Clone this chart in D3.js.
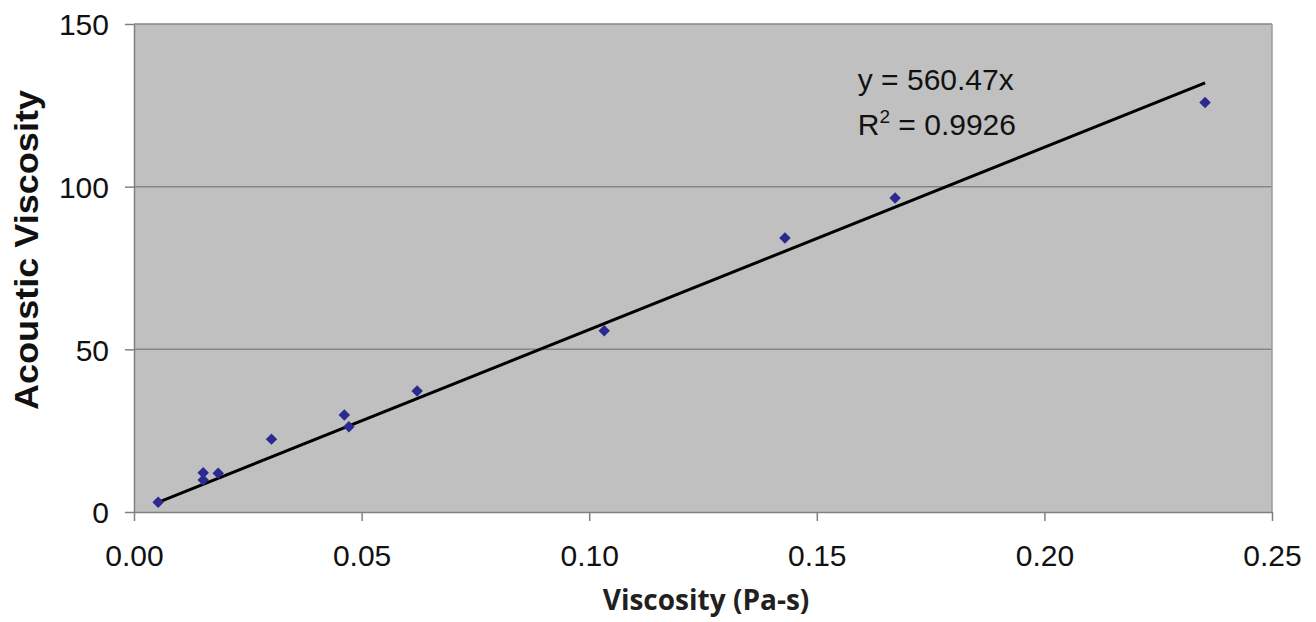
<!DOCTYPE html>
<html>
<head>
<meta charset="utf-8">
<script src="https://cdn.jsdelivr.net/npm/d3@7"></script>
<style>
  body { margin: 0; background: #fff; }
  svg { display: block; }
  .tick text { font-family: "Liberation Sans", Arial, sans-serif; fill: #111; }
</style>
</head>
<body>
<div id="chart"></div>
<script>
// measured points (viscosity Pa-s vs acoustic viscosity)
var viscosity = [0.0053, 0.0152, 0.0152, 0.0185, 0.0302, 0.0462, 0.0472, 0.0622, 0.1033, 0.1430, 0.1672, 0.2353];
var acoustic  = [3.0, 12.1, 9.8, 11.9, 22.4, 29.8, 26.2, 37.2, 55.7, 84.2, 96.5, 125.9];

var xTicks = [0, 0.05, 0.10, 0.15, 0.20, 0.25];
var yTicks = [0, 50, 100, 150];

var slope = 560.47;
var rSquared = 0.9926;

var width = 1316, height = 622;
var margin = {top: 24, right: 44, bottom: 110, left: 134};
var w = width - margin.left - margin.right;
var h = height - margin.top - margin.bottom;

var svg = d3.select('#chart').append('svg')
    .attr('width', width)
    .attr('height', height);

var g = svg.append('g')
    .attr('transform', 'translate(' + margin.left + ',' + margin.top + ')');

var x = d3.scaleLinear().domain([0, 0.25]).range([0, w]);
var y = d3.scaleLinear().domain([0, 150]).range([h, 0]);

// plot background
g.append('rect')
    .attr('width', w)
    .attr('height', h)
    .attr('fill', '#c0c0c0');

// gridlines
g.selectAll('.grid')
    .data(yTicks.slice(1))
    .enter().append('line')
    .attr('class', 'grid')
    .attr('x1', 0).attr('x2', w)
    .attr('y1', function(d) { return y(d); })
    .attr('y2', function(d) { return y(d); })
    .attr('stroke', '#858585')
    .attr('stroke-width', 1.5);

// right border
g.append('line')
    .attr('x1', w).attr('x2', w)
    .attr('y1', 0).attr('y2', h)
    .attr('stroke', '#9a9a9a')
    .attr('stroke-width', 1.5);

// axes
var xAxis = d3.axisBottom(x)
    .tickValues(xTicks)
    .tickFormat(d3.format('.2f'))
    .tickSizeInner(9)
    .tickSizeOuter(0)
    .tickPadding(24);

var yAxis = d3.axisLeft(y)
    .tickValues(yTicks)
    .tickSizeInner(9)
    .tickSizeOuter(0)
    .tickPadding(16);

var gx = g.append('g')
    .attr('transform', 'translate(0,' + h + ')')
    .call(xAxis);

var gy = g.append('g').call(yAxis);

[gx, gy].forEach(function(a) {
  a.selectAll('.domain').attr('stroke', '#808080').attr('stroke-width', 1.5);
  a.selectAll('.tick line').attr('stroke', '#808080').attr('stroke-width', 1.5);
  a.selectAll('.tick text').attr('font-size', 30);
});
gy.selectAll('.tick text').attr('dy', '0.36em');

// trendline through origin over data range
var xr = d3.extent(viscosity);
var line = d3.line()
    .x(function(d) { return x(d); })
    .y(function(d) { return y(slope * d); });

g.append('path')
    .datum(xr)
    .attr('d', line)
    .attr('fill', 'none')
    .attr('stroke', '#000')
    .attr('stroke-width', 3);

// markers (square turned 45deg)
var marker = d3.symbol().type(d3.symbolSquare).size(66);
g.selectAll('.pt')
    .data(viscosity)
    .enter().append('path')
    .attr('class', 'pt')
    .attr('d', marker)
    .attr('transform', function(d, i) {
      return 'translate(' + x(d) + ',' + y(acoustic[i]) + ') rotate(45)';
    })
    .attr('fill', '#2b2b8f');

// equation label
var eq = g.append('g')
    .attr('font-family', '"Liberation Sans", Arial, sans-serif')
    .attr('font-size', 30)
    .attr('fill', '#111');

eq.append('text')
    .attr('x', x(0.159))
    .attr('y', y(129.8))
    .text('y = ' + slope + 'x');

var r2 = eq.append('text')
    .attr('x', x(0.159))
    .attr('y', y(116));
r2.append('tspan').text('R');
r2.append('tspan').attr('dy', -12).attr('font-size', 19).text('2');
r2.append('tspan').attr('dy', 12).text(' = ' + rSquared);

// axis titles
svg.append('text')
    .attr('x', 706)
    .attr('y', 610)
    .attr('text-anchor', 'middle')
    .attr('font-family', '"Open Sans", "Noto Sans", sans-serif')
    .attr('font-weight', 700)
    .attr('font-size', 28)
    .attr('fill', '#231f20')
    .text('Viscosity (Pa-s)');

svg.append('text')
    .attr('transform', 'translate(38,250) rotate(-90)')
    .attr('text-anchor', 'middle')
    .attr('font-family', '"Liberation Sans", Arial, sans-serif')
    .attr('font-weight', 700)
    .attr('font-size', 33)
    .attr('textLength', 320)
    .attr('lengthAdjust', 'spacingAndGlyphs')
    .attr('fill', '#111')
    .text('Acoustic Viscosity');
</script>
</body>
</html>
